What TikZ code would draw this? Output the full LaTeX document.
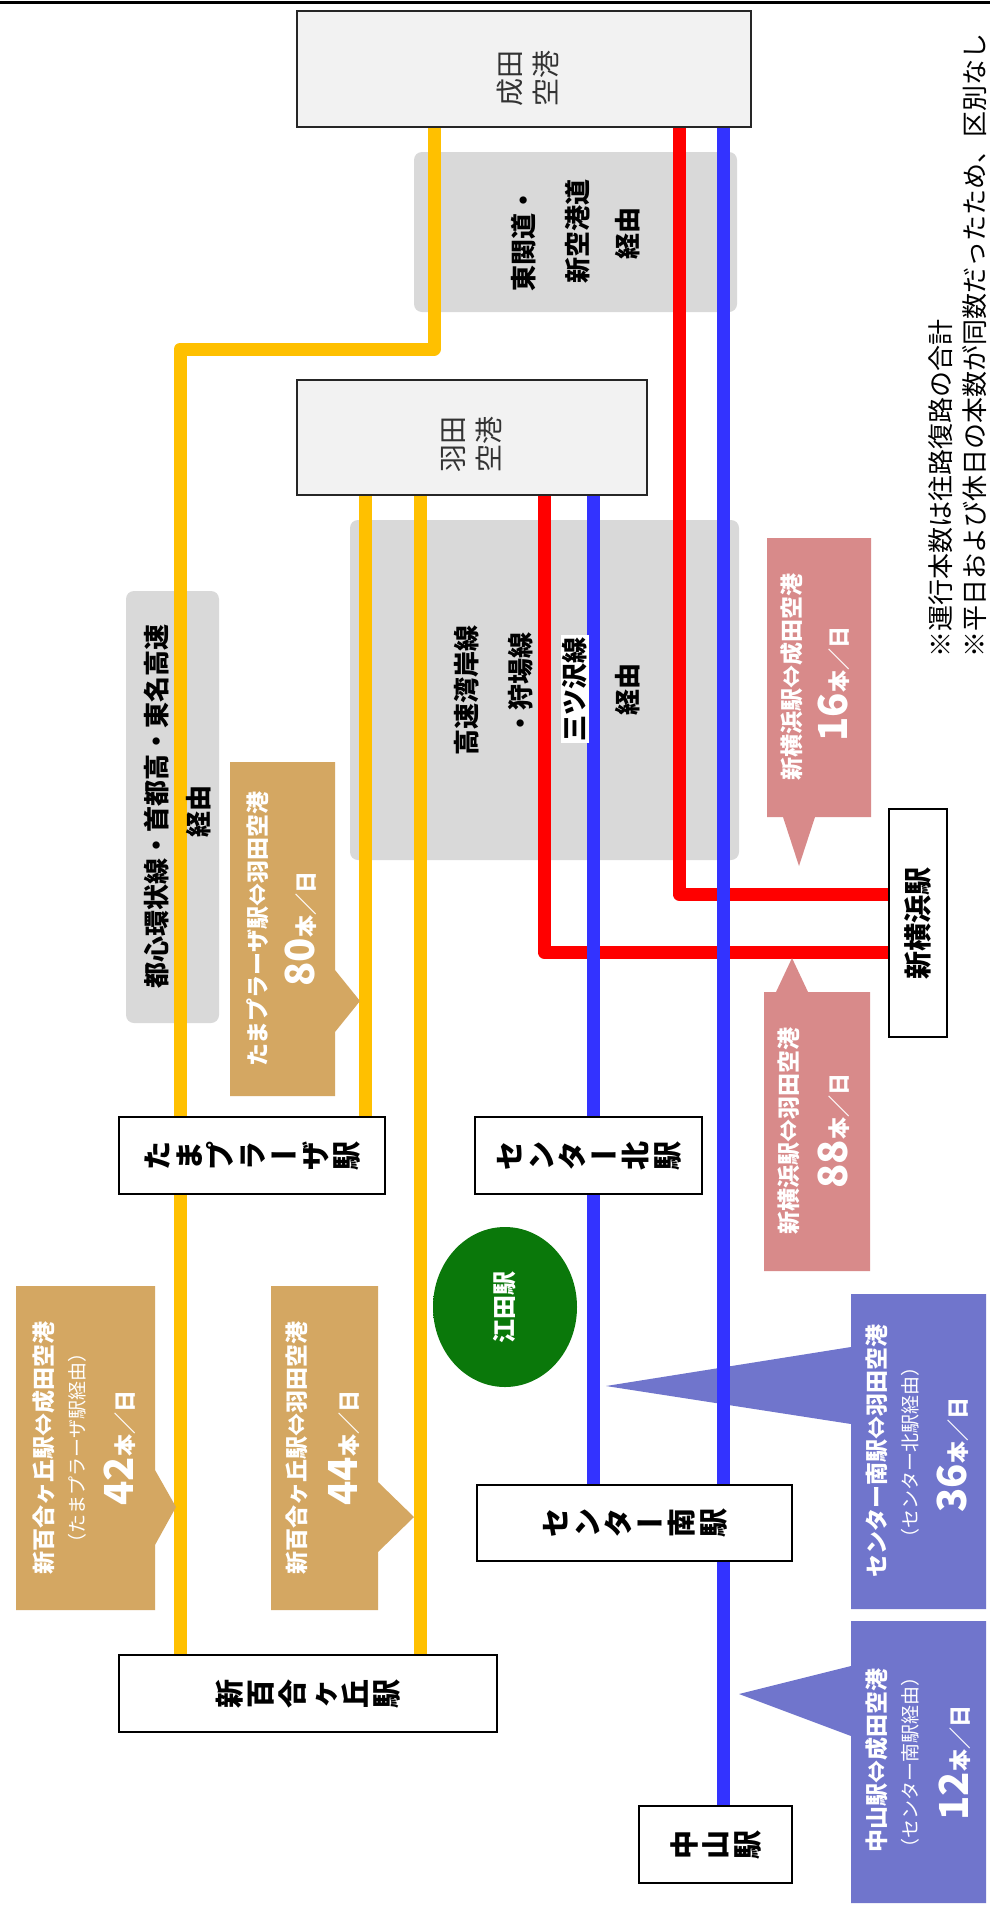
\documentclass[tikz,border=0pt]{standalone}
\usepackage{fontspec}
\usepackage{graphicx}
\setmainfont{Noto Sans CJK JP}
\usetikzlibrary{calc}
\definecolor{cYel}{RGB}{255,192,0}
\definecolor{cRed}{RGB}{255,0,0}
\definecolor{cBlue}{RGB}{51,51,255}
\definecolor{cGray}{RGB}{217,217,217}
\definecolor{cAp}{RGB}{242,242,242}
\definecolor{cTan}{RGB}{212,167,98}
\definecolor{cPink}{RGB}{216,138,138}
\definecolor{cPurp}{RGB}{112,117,204}
\definecolor{cGrn}{RGB}{10,120,10}
\pgfdeclareradialshading{blurgreen}{\pgfpoint{0bp}{0bp}}{color(0bp)=(cGrn); color(32bp)=(cGrn); color(50bp)=(white); color(72bp)=(white)}
\pgfdeclarelayer{bg}
\pgfsetlayers{bg,main}
% vertical-writing characters turned with the whole figure: each glyph rotated, fixed pitch
\newcommand\vc[1]{\makebox[31.5pt]{\rotatebox[origin=c]{90}{\rule[-0.12em]{0pt}{1em}\makebox[1em]{#1}}}}
\newcommand\vh[1]{\makebox[31.5pt]{\rule[-0.12em]{0pt}{1em}\makebox[1em]{#1}}}
\begin{document}
\begin{tikzpicture}[x=1pt,y=-1pt,
 yline/.style={draw=cYel,line width=13pt,line join=round},
 rline/.style={draw=cRed,line width=13pt,line join=round},
 bline/.style={draw=cBlue,line width=13pt,line join=round},
 graybox/.style={fill=cGray,rounded corners=8pt},
 airport/.style={draw=black!85,line width=2.5pt,fill=cAp,inner sep=0pt},
 station/.style={draw=black,line width=2.5pt,fill=white,inner sep=0pt},
 aptext/.style={rotate=90,align=center,inner sep=0pt,text=black!80,font=\fontsize{28}{36}\selectfont},
 sttext/.style={inner sep=0pt,font=\bfseries\fontsize{29}{31}\selectfont},
 hztext/.style={rotate=90,inner sep=0pt,font=\bfseries\fontsize{26}{30}\selectfont},
 c1/.style={rotate=90,inner sep=0pt,text=white,font=\bfseries\fontsize{23}{26}\selectfont},
 c2/.style={rotate=90,inner sep=0pt,text=white,font=\fontsize{19}{22}\selectfont},
 c3/.style={rotate=90,inner sep=0pt,text=white,font=\bfseries\fontsize{22}{28}\selectfont},
 notetext/.style={rotate=90,anchor=west,inner sep=0pt,font=\fontsize{26}{30}\selectfont}
]
\useasboundingbox (0,0) rectangle (990,1906);

% boxes (nodes)
\node[airport,minimum width=454pt,minimum height=116pt] (narita) at (524,69) {};
\node[airport,minimum width=350pt,minimum height=115pt] (haneda) at (472,437.5) {};
\node[station,minimum width=266pt,minimum height=77pt] (tama) at (252,1155.5) {};
\node[station,minimum width=227pt,minimum height=77pt] (kita) at (588.5,1155.5) {};
\node[station,minimum width=315pt,minimum height=76pt] (minami) at (634.5,1523) {};
\node[station,minimum width=378pt,minimum height=77pt] (shinyuri) at (308,1693.5) {};
\node[station,minimum width=153pt,minimum height=77pt] (nakayama) at (715.5,1844.5) {};
\node[station,minimum width=58pt,minimum height=228pt] (shinyoko) at (918,923) {};

\begin{pgfonlayer}{bg}
\fill[white] (0,0) rectangle (990,1906);
% gray "via" boxes
\fill[graybox] (414,152) rectangle (737,312);
\fill[graybox] (350,520) rectangle (739,860);
\fill[graybox] (126,591) rectangle (219,1023);
% purple callouts (under the blue line)
\fill[cPurp] (851,1294) -- (986,1294) -- (986,1609) -- (851,1609) -- (851,1424) -- (606,1386) -- (851,1347) -- cycle;
\fill[cPurp] (851,1621) -- (986,1621) -- (986,1903) -- (851,1903) -- (851,1736) -- (739,1694) -- (851,1666) -- cycle;
% routes
\draw[yline] (434,0 |- narita.south) -- (434,349) -- (180,349) -- (180,0 |- shinyuri.north);
\draw[yline] (365,0 |- haneda.south) -- (365,0 |- tama.north);
\draw[yline] (420,0 |- haneda.south) -- (420,0 |- shinyuri.north);
\draw[rline] (544,0 |- haneda.south) -- (544,952) -- (shinyoko.west |- 0,952);
\draw[rline] (679,0 |- narita.south) -- (679,894) -- (shinyoko.west |- 0,894);
\draw[bline] (593,0 |- haneda.south) -- (593,0 |- minami.north);
\draw[bline] (723,0 |- narita.south) -- (723,0 |- nakayama.north);
\end{pgfonlayer}

\draw[line width=3pt] (0,2) -- (990,2);

% tan callouts
\fill[cTan] (16,1286) -- (155,1286) -- (155,1470) -- (176,1507) -- (155,1545) -- (155,1610) -- (16,1610) -- cycle;
\fill[cTan] (271,1286) -- (378,1286) -- (378,1482) -- (414,1517) -- (378,1552) -- (378,1610) -- (271,1610) -- cycle;
\fill[cTan] (230,762) -- (335,762) -- (335,970) -- (360,1001) -- (335,1032) -- (335,1096) -- (230,1096) -- cycle;
% pink callouts
\fill[cPink] (767,538) -- (871,538) -- (871,817) -- (815,817) -- (799,866) -- (783,817) -- (767,817) -- cycle;
\fill[cPink] (764,992) -- (776,992) -- (792,958) -- (808,992) -- (870,992) -- (870,1271) -- (764,1271) -- cycle;

% Eda station
\shade[shading=blurgreen] (505,1307) ellipse [x radius=72pt, y radius=80pt];
\node[rotate=90,inner sep=0pt,text=white,font=\bfseries\fontsize{24}{28}\selectfont] (eda) at (505,1307) {江田駅};

% airport labels
\node[aptext] (naritatxt) at (528,78) {成田\\空港};
\node[aptext] (hanedatxt) at (472,444) {羽田\\空港};

% station labels (vertical writing, turned)
\node[sttext] (tamatxt) at (tama) {\vc{た}\vc{ま}\vc{プ}\vc{ラ}\vh{ー}\vc{ザ}\vc{駅}};
\node[sttext] (kitatxt) at (kita) {\vc{セ}\vc{ン}\vc{タ}\vh{ー}\vc{北}\vc{駅}};
\node[sttext] (minamitxt) at (minami) {\vc{セ}\vc{ン}\vc{タ}\vh{ー}\vc{南}\vc{駅}};
\node[sttext] (shinyuritxt) at (shinyuri) {\vc{新}\vc{百}\vc{合}\vc{ヶ}\vc{丘}\vc{駅}};
\node[sttext] (nakayamatxt) at (nakayama) {\vc{中}\vc{山}\vc{駅}};
\node[rotate=90,inner sep=0pt,font=\bfseries\fontsize{28}{30}\selectfont] (shinyokotxt) at (shinyoko) {新横浜駅};

% via labels
\node[hztext] (v1a) at (524,239) {東関道・};
\node[hztext] (v1b) at (578,231) {新空港道};
\node[hztext] (v1c) at (628,233) {経由};
\node[hztext] (v2a) at (467,690) {高速湾岸線};
\node[hztext] (v2b) at (521,684) {・狩場線};
\node[hztext,fill=white,inner sep=2pt] (v2c) at (575,689) {三ツ沢線};
\node[hztext] (v2d) at (628,689) {経由};
\node[hztext] (v3a) at (157,806) {都心環状線・首都高・東名高速};
\node[hztext] (v3b) at (199,811) {経由};

% callout texts
\node[c1] (t42a) at (44,1448) {新百合ヶ丘駅⇔成田空港};
\node[c2] (t42b) at (77,1448) {（たまプラーザ駅経由）};
\node[c3] (t42c) at (120,1448) {{\fontsize{40}{44}\selectfont 42}本／日};
\node[c1] (t44a) at (297,1448) {新百合ヶ丘駅⇔羽田空港};
\node[c3] (t44c) at (344,1448) {{\fontsize{40}{44}\selectfont 44}本／日};
\node[c1] (t80a) at (258,929) {たまプラーザ駅⇔羽田空港};
\node[c3] (t80c) at (301,929) {{\fontsize{40}{44}\selectfont 80}本／日};
\node[c1] (t16a) at (792,677) {新横浜駅⇔成田空港};
\node[c3] (t16c) at (834,684) {{\fontsize{40}{44}\selectfont 16}本／日};
\node[c1] (t88a) at (789,1131) {新横浜駅⇔羽田空港};
\node[c3] (t88c) at (834,1131) {{\fontsize{40}{44}\selectfont 88}本／日};
\node[c1] (t36a) at (877,1451) {センター南駅⇔羽田空港};
\node[c2] (t36b) at (910,1452) {（センター北駅経由）};
\node[c3] (t36c) at (953,1455) {{\fontsize{40}{44}\selectfont 36}本／日};
\node[c1] (t12a) at (877,1760) {中山駅⇔成田空港};
\node[c2] (t12b) at (910,1762) {（センター南駅経由）};
\node[c3] (t12c) at (955,1763) {{\fontsize{40}{44}\selectfont 12}本／日};

% notes
\node[notetext] (note1) at (941,658) {※運行本数は往路復路の合計};
\node[notetext] (note2) at (975,658) {※平日および休日の本数が同数だったため、区別なし};
\end{tikzpicture}
\end{document}
